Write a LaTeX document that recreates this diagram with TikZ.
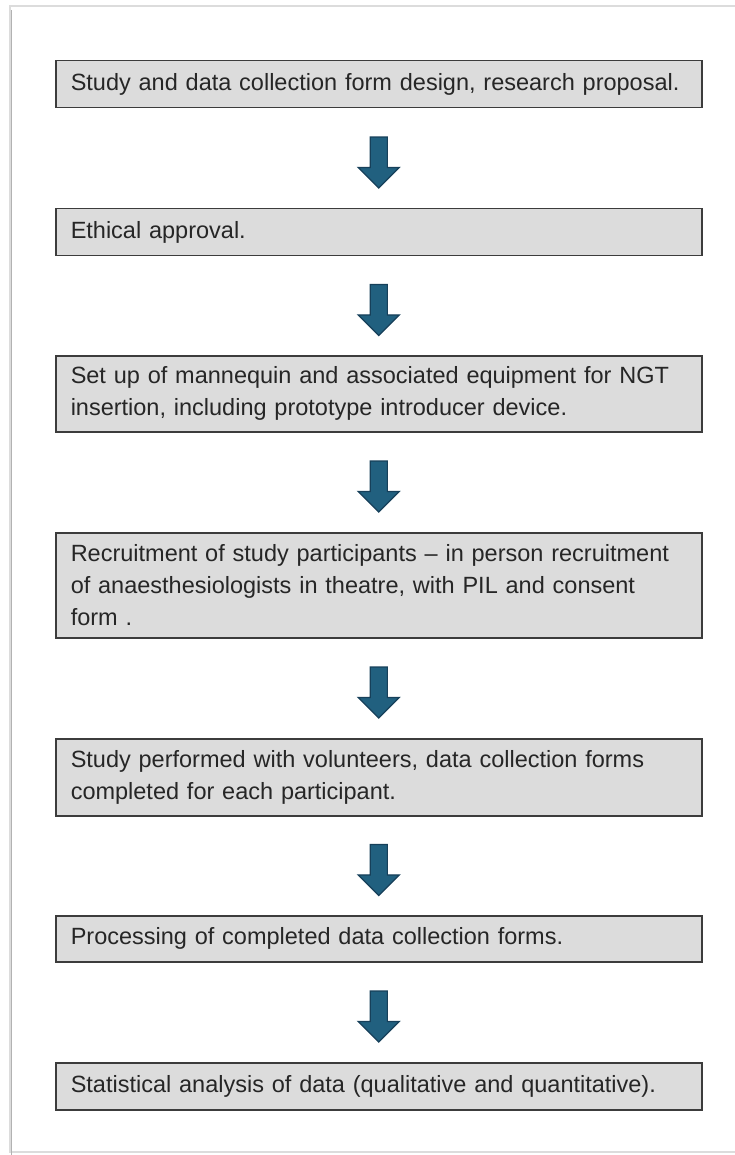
\documentclass[tikz,border=0pt]{standalone}
\usepackage{fontspec}
\setmainfont{Liberation Sans}
\usetikzlibrary{shapes.arrows,positioning,calc}

\definecolor{boxfill}{HTML}{DCDCDC}
\definecolor{boxline}{HTML}{3C3C3C}
\definecolor{arrowfill}{HTML}{21607F}
\definecolor{arrowline}{HTML}{17405A}
\definecolor{framegray}{HTML}{DCDCDC}

\begin{document}
\begin{tikzpicture}[x=1pt,y=-1pt,
    stepbox/.style={draw=boxline, line width=1.5pt, fill=boxfill, text=black!85,
      text width=616pt, inner xsep=15pt, inner ysep=0pt, align=left,
      font=\fontsize{23.5}{32}\selectfont, anchor=north west},
    flowarrow/.style={single arrow, draw=arrowline, fill=arrowfill, line width=1.2pt,
      minimum height=51pt, inner sep=8pt, single arrow head extend=12pt,
      single arrow head indent=0pt, shape border rotate=270}]
    \useasboundingbox (0,0) rectangle (734,1155);
    % page frame
    \draw[framegray, line width=2pt] (10,1152) rectangle (760,6);
    \draw[black!30, line width=1pt] (11.5,10) -- (11.5,1155);

    % steps
    \node[stepbox, minimum height=47pt] (design) at (55,60)
        {Study and data collection form design, research proposal.};
    \node[stepbox, minimum height=47pt] (ethics) at (55,208)
        {Ethical approval.};
    \node[stepbox, minimum height=76pt] (setup) at (55,355)
        {Set up of mannequin and associated equipment for NGT\\
         insertion, including prototype introducer device.};
    \node[stepbox, minimum height=105pt] (recruit) at (55,532)
        {Recruitment of study participants – in person recruitment\\
         of anaesthesiologists in theatre, with PIL and consent\\
         form .};
    \node[stepbox, minimum height=77pt] (study) at (55,738)
        {Study performed with volunteers, data collection forms\\
         completed for each participant.};
    \node[stepbox, minimum height=46pt] (process) at (55,915)
        {Processing of completed data collection forms.};
    \node[stepbox, minimum height=47pt] (stats) at (55,1062)
        {Statistical analysis of data (qualitative and quantitative).};

    % arrows between steps
    \node[flowarrow] (a1) at ($(design.south)!0.5!(ethics.north)$) {};
    \node[flowarrow] (a2) at ($(ethics.south)!0.5!(setup.north)$) {};
    \node[flowarrow] (a3) at ($(setup.south)!0.5!(recruit.north)$) {};
    \node[flowarrow] (a4) at ($(recruit.south)!0.5!(study.north)$) {};
    \node[flowarrow] (a5) at ($(study.south)!0.5!(process.north)$) {};
    \node[flowarrow] (a6) at ($(process.south)!0.5!(stats.north)$) {};
\end{tikzpicture}
\end{document}
